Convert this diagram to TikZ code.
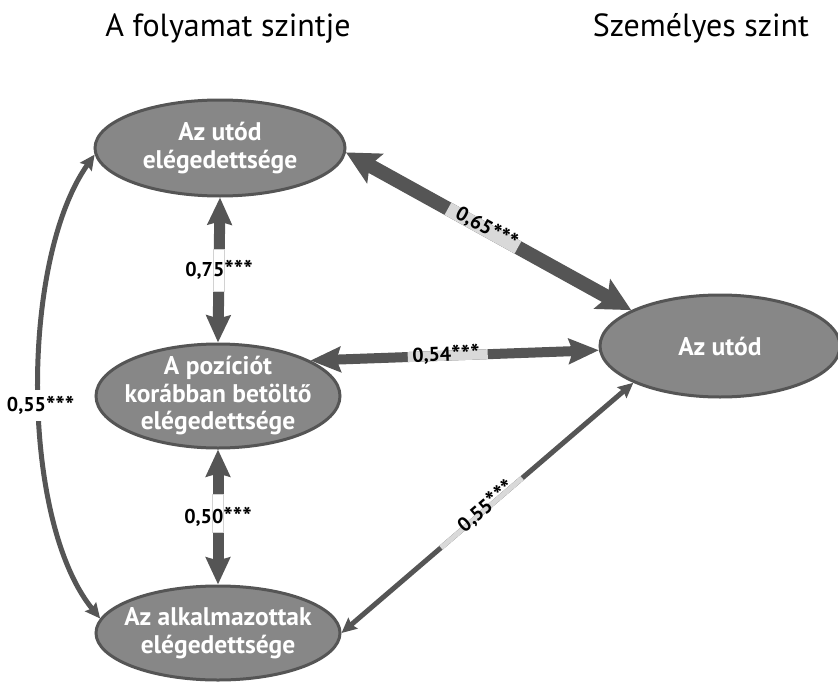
\documentclass[tikz,border=0pt]{standalone}
\usepackage{fontspec}
\setmainfont{PT Sans}
\usetikzlibrary{arrows.meta,shapes.geometric}
\definecolor{arrowgray}{HTML}{555555}
\definecolor{bubblefill}{HTML}{878787}
\definecolor{bubbleline}{HTML}{555555}
\definecolor{bandgray}{HTML}{D9D9D9}
\newcommand{\sigstars}{{\fontsize{25}{25}\selectfont\raisebox{-2.5pt}{***}}}
\begin{document}
\begin{tikzpicture}[x=1pt,y=-1pt,
  bubble/.style={ellipse, draw=bubbleline, line width=3pt, fill=bubblefill, inner sep=0pt},
  ntext/.style={text=white, font=\fontsize{25.5}{27.5}\selectfont\bfseries, align=center, inner sep=0pt},
  ttl/.style={font=\fontsize{32}{36}\selectfont, inner sep=0pt, anchor=base},
  lab/.style={font=\fontsize{20}{22}\selectfont\bfseries, inner sep=1pt},
  band/.style={fill=bandgray, inner sep=0pt, sloped},
  wband/.style={fill=white, draw=gray!35, line width=0.6pt, inner sep=0pt},
  cbig/.style={draw=arrowgray, line width=14pt, {Stealth[length=33pt,width=33pt,inset=6pt]}-{Stealth[length=33pt,width=33pt,inset=6pt]}},
  cmid/.style={draw=arrowgray, line width=10pt, {Stealth[length=30pt,width=25pt,inset=4pt]}-{Stealth[length=30pt,width=25pt,inset=4pt]}},
  cvert/.style={draw=arrowgray, line width=11pt, {Stealth[length=27pt,width=24pt,inset=3pt]}-{Stealth[length=27pt,width=24pt,inset=3pt]}},
  cthin/.style={draw=arrowgray, line width=5pt, {Stealth[length=15pt,width=14pt,inset=2pt]}-{Stealth[length=15pt,width=14pt,inset=2pt]}}
]
\useasboundingbox (0,0) rectangle (838,685);

% titles
\node[ttl] (tt1) at (228,37) {A folyamat szintje};
\node[ttl] (tt2) at (701,37) {Személyes szint};

% ellipses
\node[bubble, minimum width=250pt, minimum height=96pt] (e1) at (220,148) {};
\node[bubble, minimum width=244pt, minimum height=104pt] (e2) at (218,396) {};
\node[bubble, minimum width=244pt, minimum height=94pt] (e3) at (218,633) {};
\node[bubble, minimum width=240pt, minimum height=102pt] (e4) at (720,346) {};

\node[ntext] (t1) at (e1.center) {Az utód\\elégedettsége};
\node[ntext] (t2) at (e2.center) {A pozíciót\\korábban betöltő\\elégedettsége};
\node[ntext] (t3) at (e3.center) {Az alkalmazottak\\elégedettsége};
\node[ntext] (t4) at (e4.center) {Az utód};

% 0,65
\draw[cbig] (e1.-2) -- (e4.158);
\path (e1.-2) -- (e4.158)
  node[pos=0.48, band, minimum width=80pt, minimum height=14pt] (b65) {}
  node[pos=0.49, lab, sloped, yshift=2pt] (l65) {0,65\sigstars};

% 0,54
\draw[cmid] (e2.21) -- (e4.182);
\path (e2.21) -- (e4.182)
  node[pos=0.476, band, minimum width=80pt, minimum height=10pt] (b54) {}
  node[pos=0.47, lab, sloped, yshift=1pt] (l54) {0,54\sigstars};

% 0,55 diagonal
\draw[cthin] (e3.east) -- (e4.203);
\path (e3.east) -- (e4.203)
  node[pos=0.48, band, minimum width=107pt, minimum height=5pt] (b55) {}
  node[pos=0.5, lab, sloped, yshift=2pt] (l55) {0,55\sigstars};

% 0,75
\draw[cvert] (e1.south) -- (e2.north)
  node[pos=0.5, wband, minimum width=11pt, minimum height=42pt] (b75) {}
  node[pos=0.5, lab] (l75) {0,75\sigstars};

% 0,50
\draw[cvert] (e2.south) -- (e3.north)
  node[pos=0.47, wband, minimum width=11pt, minimum height=38pt] (b50) {}
  node[pos=0.5, lab] (l50) {0,50\sigstars};

% 0,55 curved
\draw[cthin] (e1.183) .. controls (20,260) and (20,520) .. (e3.173)
  node[pos=0.53, lab, fill=white, inner ysep=6pt, xshift=1pt] (l55c) {0,55\sigstars};
\end{tikzpicture}
\end{document}
